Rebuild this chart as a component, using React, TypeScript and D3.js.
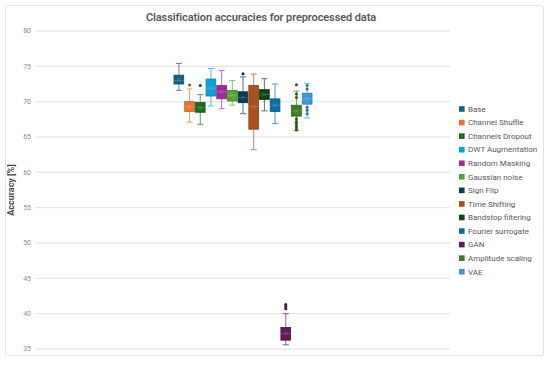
import React from 'react'
import * as d3 from 'd3'

const seriesNames = [
  'Base', 'Channel Shuffle', 'Channels Dropout', 'DWT Augmentation', 'Random Masking',
  'Gaussian noise', 'Sign Flip', 'Time Shifting', 'Bandstop filtering', 'Fourier surrogate',
  'GAN', 'Amplitude scaling', 'VAE',
]
const whiskerLow = [71.6, 67.1, 66.8, 69.4, 69.0, 69.5, 68.3, 63.2, 68.7, 66.9, 35.6, 65.9, 67.7]
const q1Values = [72.5, 68.6, 68.5, 70.8, 70.4, 70.1, 69.85, 66.1, 70.3, 68.6, 36.25, 67.95, 69.65]
const medianValues = [73.0, 69.3, 69.2, 71.9, 71.4, 70.9, 70.6, 69.3, 71.0, 69.5, 37.2, 68.7, 70.4]
const meanValues = [73.1, 69.3, 69.1, 71.9, 71.4, 70.9, 70.6, 69.2, 71.0, 69.5, 37.3, 68.6, 70.4]
const q3Values = [73.75, 70.0, 69.9, 73.2, 72.3, 71.6, 71.4, 72.3, 71.7, 70.4, 38.05, 69.5, 71.2]
const whiskerHigh = [75.4, 71.8, 71.0, 74.7, 74.4, 73.0, 73.5, 73.9, 73.25, 72.5, 40.0, 71.5, 72.6]
const outlierValues = [
  [], [72.35], [72.3], [], [], [], [73.95], [], [], [],
  [40.7, 41.0, 41.3],
  [72.4, 71.1, 70.6, 67.6, 67.2, 66.9, 66.6, 66.3, 66.0],
  [72.3, 71.8, 69.2, 68.8, 68.3],
]
const yTicks = [35, 40, 45, 50, 55, 60, 65, 70, 75, 80]

const colors = [
  '#156082', '#E97132', '#196B24', '#0F9ED5', '#A02B93', '#4EA72E', '#0D3A52',
  '#A8501E', '#0F4417', '#0B6E9F', '#601A58', '#3A7D22', '#3B9AD2',
]

const W = 550
const H = 365
const plot = { left: 36, right: 450, top: 31, bottom: 349 }

export default function App() {
  const y = d3.scaleLinear().domain([35, 80]).range([plot.bottom, plot.top])
  const cat = d3.scaleBand().domain(['all']).range([plot.left, plot.right]).paddingOuter(0.25).paddingInner(0)
  const x = d3.scaleBand()
    .domain(seriesNames)
    .range([cat('all')! + cat.bandwidth() * 0.25, cat('all')! + cat.bandwidth() * 0.75])
    .paddingInner(0.09)
  const bw = x.bandwidth()
  const font = 'Roboto, "Liberation Sans", sans-serif'

  return (
    <svg width={W} height={H} style={{ display: 'block', position: 'absolute', left: 0, top: 0 }} fontFamily={font}>
      <rect x={5.5} y={5.5} width={538} height={350} fill="#fff" stroke="#e3e3e3" rx={2} />
      <text x={261} y={21} textAnchor="middle" fontSize={11} fontWeight={600} letterSpacing={-0.1} fill="#595959">
        Classification accuracies for preprocessed data
      </text>

      {yTicks.map(t => (
        <g key={t}>
          <line x1={plot.left} x2={plot.right} y1={y(t)} y2={y(t)} stroke="#e0e0e0" strokeWidth={1} />
          <text x={31} y={y(t)} dy="0.35em" textAnchor="end" fontSize={7} fill="#8c8c8c">{t}</text>
        </g>
      ))}

      <text transform={`translate(14,${(plot.top + plot.bottom) / 2}) rotate(-90)`} textAnchor="middle"
        fontSize={9} fontWeight={600} fill="#404040">Accuracy [%]</text>

      {seriesNames.map((s, i) => {
        const x0 = x(s)!
        const cx = x0 + bw / 2
        const c = colors[i]
        const light = d3.interpolateRgb(c, '#ffffff')(0.3)
        return (
          <g key={s}>
            <line x1={cx} x2={cx} y1={y(whiskerHigh[i])} y2={y(q3Values[i])} stroke={light} strokeWidth={1} />
            <line x1={cx} x2={cx} y1={y(q1Values[i])} y2={y(whiskerLow[i])} stroke={light} strokeWidth={1} />
            <line x1={cx - 3} x2={cx + 3} y1={y(whiskerHigh[i])} y2={y(whiskerHigh[i])} stroke={light} strokeWidth={1} />
            <line x1={cx - 3} x2={cx + 3} y1={y(whiskerLow[i])} y2={y(whiskerLow[i])} stroke={light} strokeWidth={1} />
            <rect x={x0} y={y(q3Values[i])} width={bw} height={y(q1Values[i]) - y(q3Values[i])}
              fill={c} stroke={d3.color(c)!.darker(0.5).toString()} strokeWidth={0.8} />
            <line x1={x0} x2={x0 + bw} y1={y(medianValues[i])} y2={y(medianValues[i])} stroke={light} strokeWidth={0.6} />
            <path d={`M${cx - 2},${y(meanValues[i]) - 2}L${cx + 2},${y(meanValues[i]) + 2}M${cx - 2},${y(meanValues[i]) + 2}L${cx + 2},${y(meanValues[i]) - 2}`}
              stroke={light} strokeWidth={0.6} />
            {outlierValues[i].map((o, j) => (
              <circle key={j} cx={cx} cy={y(o)} r={1.5} fill={d3.color(c)!.darker(1).toString()} />
            ))}
          </g>
        )
      })}

      {seriesNames.map((s, i) => (
        <g key={s} transform={`translate(459,${109 + i * 13.56})`}>
          <rect x={0} y={-2.8} width={5.6} height={5.6} fill={colors[i]} />
          <text x={9} y={0} dy="0.35em" fontSize={8} fill="#595959">{s}</text>
        </g>
      ))}
    </svg>
  )
}
